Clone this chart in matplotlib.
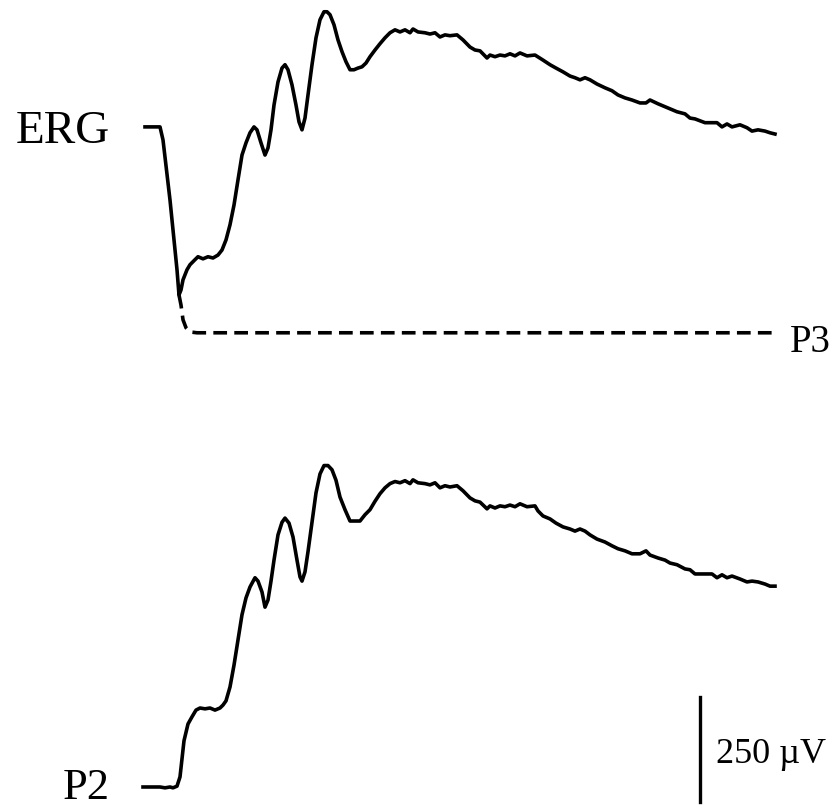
import matplotlib.pyplot as plt

# time (ms, 0 = flash) and amplitude (uV)
erg_t = [-15, 0, 3, 10, 17, 19, 21, 23, 27, 30, 35, 38, 43, 48, 53, 58, 62, 66, 70, 74,
         78, 82, 86, 90, 94, 97, 101, 105, 108, 111, 114, 118, 122, 125, 128, 132, 136, 139,
         142, 145, 148, 152, 156, 160, 164, 167, 170, 174, 178, 182, 186, 190, 194, 198,
         202, 206, 210, 215, 220, 225, 230, 235, 240, 245, 250, 253, 258, 265, 270, 275,
         280, 285, 290, 297, 303, 310, 315, 320, 327, 330, 335, 340, 345, 350, 355, 360,
         367, 375, 383, 390, 396, 403, 410, 415, 420, 425, 430, 437, 445, 452, 458, 465,
         472, 480, 486, 490, 498, 505, 510, 517, 525, 530, 535, 545, 552, 557, 562, 567,
         572, 580, 587, 592, 598, 605, 610, 615]
erg_uv = [0, 0, -31, -174, -340, -400, -388, -364, -340, -328, -316, -309, -314, -309, -312,
          -305, -293, -269, -233, -186, -126, -67, -38, -14, 0, -7, -38, -67, -50, -7, 52,
          107, 140, 148, 136, 100, 52, 12, -7, 21, 76, 148, 212, 255, 274, 274, 267, 243,
          207, 179, 155, 136, 136, 140, 143, 152, 167, 183, 198, 212, 224, 231, 226, 231,
          224, 233, 226, 224, 221, 224, 214, 219, 217, 219, 207, 190, 183, 181, 164, 171,
          167, 171, 169, 174, 169, 176, 169, 171, 159, 148, 140, 131, 121, 117, 112, 117,
          112, 102, 93, 86, 76, 69, 64, 57, 57, 64, 55, 48, 43, 36, 31, 21, 19, 10, 10, 10,
          0, 7, 0, 5, -2, -10, -7, -10, -14, -17]

p3_t = [19, 21, 23, 26, 30, 37, 615]
p3_uv = [-400, -424, -459, -478, -488, -490, -490]

p2_t = [-17, 0, 5, 10, 13, 17, 20, 22, 24, 28, 32, 36, 40, 45, 50, 55, 60, 63, 66, 70, 74,
        78, 82, 86, 90, 95, 98, 102, 105, 108, 111, 114, 118, 122, 125, 129, 133, 137, 140,
        142, 145, 148, 152, 156, 160, 164, 168, 172, 176, 180, 185, 190, 195, 200, 205,
        210, 215, 220, 225, 230, 235, 240, 245, 250, 253, 258, 265, 270, 275, 280, 285,
        290, 297, 303, 310, 315, 320, 327, 330, 335, 340, 345, 350, 355, 360, 367, 375,
        378, 383, 390, 396, 403, 410, 415, 420, 425, 430, 437, 445, 452, 458, 465, 472,
        480, 486, 490, 498, 505, 510, 517, 525, 530, 535, 545, 552, 557, 562, 567, 572,
        580, 587, 592, 598, 605, 610, 615]
p2_uv = [0, 0, -2, 0, -2, 2, 24, 67, 110, 150, 167, 183, 188, 186, 188, 183, 188, 195, 205,
         238, 290, 350, 410, 450, 476, 498, 490, 464, 428, 445, 490, 540, 600, 630, 640,
         628, 595, 540, 500, 490, 512, 560, 630, 700, 745, 765, 765, 755, 730, 690, 660,
         633, 633, 633, 648, 660, 680, 698, 712, 722, 727, 724, 729, 722, 731, 724, 722,
         719, 724, 712, 717, 714, 717, 705, 688, 681, 678, 662, 669, 664, 669, 667, 671,
         667, 674, 667, 669, 657, 645, 638, 628, 619, 614, 609, 614, 609, 600, 590, 583,
         574, 567, 562, 555, 555, 562, 552, 545, 540, 533, 529, 519, 517, 507, 507, 507,
         498, 505, 498, 502, 495, 488, 490, 488, 483, 478, 478]

scale_uv = 250
p2_offset = -1571

plt.rcParams['font.family'] = ['Liberation Serif', 'DejaVu Serif']

fig = plt.figure(figsize=(8.35, 8.08), dpi=100)
ax = fig.add_axes([0, 0, 1, 1])
ax.set_xlim(-160, 675)
ax.set_ylim(-1621, 302)
ax.axis('off')

lw = 2.6
ax.plot(erg_t, erg_uv, color='black', lw=lw, solid_joinstyle='round')
ax.plot(p3_t, p3_uv, color='black', lw=lw, linestyle=(0, (3.8, 2.0)))
ax.plot(p2_t, [v + p2_offset for v in p2_uv], color='black', lw=lw, solid_joinstyle='round')

# scale bar
ax.plot([540, 540], [-1607, -1607 + scale_uv], color='black', lw=2.4)
ax.text(556, -1514, f'{scale_uv} µV', fontsize=26, ha='left', va='baseline')

ax.text(-50, -38, 'ERG', fontsize=34, ha='right', va='baseline')
ax.text(-50, -1600, 'P2', fontsize=32, ha='right', va='baseline')
ax.text(630, -536, 'P3', fontsize=28, ha='left', va='baseline')

plt.savefig('out.png', dpi=100)
